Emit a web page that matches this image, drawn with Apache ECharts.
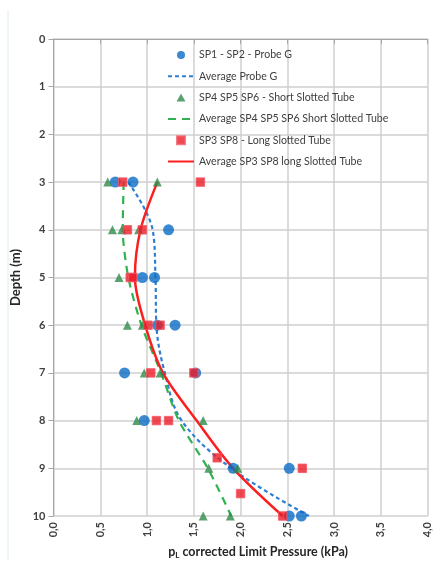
<!DOCTYPE html>
<html><head><meta charset="utf-8">
<script src="https://cdn.jsdelivr.net/npm/echarts@6/dist/echarts.min.js"></script>
<style>html,body{margin:0;padding:0;background:#fff}#c{width:446px;height:568px}</style>
</head><body><div id="c"></div>
<script>
// Scatter points: [pressure (kPa), depth (m)]
const probeG = [[0.66,3],[0.85,3],[1.23,4],[0.95,5],[1.08,5],[1.11,6],[1.30,6],[0.76,7],[1.52,7],[0.97,8],[1.92,9],[2.52,9],[2.52,10],[2.65,10]];
const shortTube = [[0.58,3],[1.11,3],[0.63,4],[0.73,4],[0.91,4],[0.70,5],[0.79,6],[0.95,6],[0.97,7],[1.14,7],[0.89,8],[1.60,8],[1.66,9],[1.97,9],[1.60,10],[1.89,10]];
const longTube = [[0.74,3],[1.57,3],[0.79,4],[0.95,4],[0.82,5],[0.85,5],[1.01,6],[1.14,6],[1.04,7],[1.50,7],[1.10,8],[1.23,8],[1.75,8.78],[2.66,9],[2.00,9.53],[2.45,10]];
// Average lines
const lineDepths = [3,4,5,6,7,8,9,10];
const avgProbeG = [0.80,1.06,1.09,1.10,1.19,1.37,1.90,2.73];
const avgShort = [0.75,0.74,0.80,0.94,1.15,1.34,1.65,1.90];
const avgLong = [1.11,0.93,0.87,0.98,1.17,1.53,1.92,2.45];
const names = ['SP1 - SP2 - Probe G','Average Probe G','SP4 SP5 SP6 - Short Slotted Tube','Average SP4 SP5 SP6 Short Slotted Tube','SP3 SP8 - Long Slotted Tube','Average SP3 SP8 long Slotted Tube'];

const pair = (vals) => vals.map((v,i)=>[v, lineDepths[i]]);
const font = 'Lato, "Open Sans", sans-serif';
const hide = {opacity:0};
const chart = echarts.init(document.getElementById('c'));
chart.setOption({
  animation:false,
  textStyle:{fontFamily:font},
  grid:{left:53.5,right:18.3,top:39,bottom:52,containLabel:false},
  legend:{
    orient:'vertical', left:167, top:49, padding:0, itemWidth:26, itemHeight:8, itemGap:9.3,
    symbolKeepAspect:true,
    textStyle:{fontSize:10.6,lineHeight:12,color:'#404040',fontFamily:font},
    data:[
      {name:names[0],icon:'circle'},
      {name:names[1],itemStyle:hide},
      {name:names[2],icon:'path://M5,0L10,9L0,9Z'},
      {name:names[3],itemStyle:hide},
      {name:names[4],icon:'path://M0,0H8V8H0Z'},
      {name:names[5],itemStyle:hide}
    ]
  },
  xAxis:{
    type:'value', min:0, max:4, interval:0.5,
    name:'{b|p}{s|L}{b| corrected Limit Pressure (kPa)}', nameLocation:'middle', nameGap:29,
    nameTextStyle:{padding:[0,0,0,35],rich:{b:{fontSize:12.5,fontWeight:'bold',color:'#262626',fontFamily:font},s:{fontSize:8,fontWeight:'bold',color:'#262626',verticalAlign:'bottom',padding:[6,0,0,0],fontFamily:font}}},
    axisLine:{show:true,lineStyle:{color:'#a6a6a6',width:1}},
    axisTick:{show:true,length:5,lineStyle:{color:'#a6a6a6'}},
    axisLabel:{rotate:90,fontSize:11,color:'#404040',fontWeight:'bold',margin:6,formatter:v=>v.toFixed(1).replace('.',',')},
    splitLine:{show:true,lineStyle:{color:'#cfcfcf',width:1.5}}
  },
  yAxis:{
    type:'value', inverse:true, min:0, max:10, interval:1,
    name:'Depth (m)', nameLocation:'middle', nameGap:17, nameRotate:90,
    nameTextStyle:{fontSize:13,fontWeight:'bold',color:'#262626'},
    axisLine:{show:true,lineStyle:{color:'#a6a6a6',width:1}},
    axisTick:{show:true,length:5,lineStyle:{color:'#a6a6a6'}},
    axisLabel:{fontSize:11,color:'#404040',fontWeight:'bold',margin:8},
    splitLine:{show:true,lineStyle:{color:'#cfcfcf',width:1.5}}
  },
  graphic:[{type:'line',shape:{x1:8,y1:10,x2:8,y2:560},style:{stroke:'#dcecef',lineWidth:1},silent:true}],
  series:[
    {name:names[0],type:'scatter',data:probeG,symbol:'circle',symbolSize:11,itemStyle:{color:'#0a6cc4'},z:3},
    {name:names[1],type:'line',data:pair(avgProbeG),symbol:'none',smooth:0.35,lineStyle:{color:'#2f7fd0',width:2.2,type:[4,3]},z:2},
    {name:names[2],type:'scatter',data:shortTube,symbol:'triangle',symbolSize:9,itemStyle:{color:'#2f8a4a'},z:3},
    {name:names[3],type:'line',data:pair(avgShort),symbol:'none',smooth:0.25,lineStyle:{color:'#2fb24f',width:2.2,type:[8,6]},z:2},
    {name:names[4],type:'scatter',data:longTube,symbol:'rect',symbolSize:8.5,itemStyle:{color:'#ee1c25',borderColor:'#f25a6a',borderWidth:1},z:4},
    {name:names[5],type:'line',data:pair(avgLong),symbol:'none',smooth:0.3,lineStyle:{color:'#fb1f1f',width:2.5},z:2}
  ]
});
</script></body></html>
